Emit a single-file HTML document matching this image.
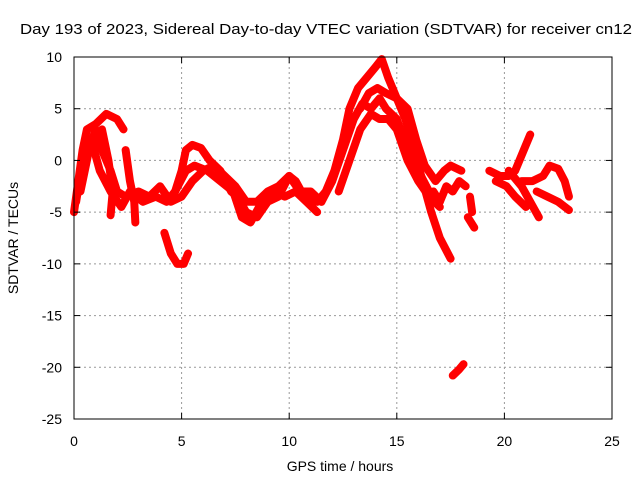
<!DOCTYPE html>
<html><head><meta charset="utf-8"><style>
html,body{margin:0;padding:0;background:#fff}
svg{display:block;font-family:"Liberation Sans",sans-serif}
</style></head><body>
<svg id="chart" width="640" height="480" viewBox="0 0 640 480">
<text x="326" y="34" font-size="15" text-anchor="middle" textLength="612" lengthAdjust="spacingAndGlyphs">Day 193 of 2023, Sidereal Day-to-day VTEC variation (SDTVAR) for receiver cn12</text>
<g id="grid"></g>
<g id="marks"></g>
<rect x="74" y="57" width="538" height="362" fill="none" stroke="#000" stroke-width="1"/>
<g id="ticks"></g>
<text x="340" y="471" font-size="14" text-anchor="middle">GPS time / hours</text>
<text transform="translate(18,238) rotate(-90)" font-size="14" text-anchor="middle">SDTVAR / TECUs</text>
</svg>
<script>
const xTicks=[0,5,10,15,20,25];
const yTicks=[10,5,0,-5,-10,-15,-20,-25];
const track1=[[0,-5],[0.2,-2],[0.4,1],[0.6,3],[1.0,3.5],[1.5,4.5],[2.0,4],[2.3,3]];
const track2=[[0.1,-4],[0.4,0],[0.8,2],[1.2,-1],[1.7,-3],[2.2,-4.5],[2.6,-3],[3.2,-4],[3.8,-3.5],[4.3,-4],[4.7,-3],[5.2,-1],[5.6,-0.5],[6.2,-1],[6.8,-2],[7.4,-3],[7.8,-5.5],[8.2,-6],[8.6,-4.5],[9.2,-3],[9.8,-3.5],[10.3,-3],[10.8,-4],[11.3,-5]];
const track3=[[0.3,-3],[0.7,1],[1.0,3],[1.3,1],[1.7,-1],[2.0,-3],[2.4,-3.5],[3.0,-3],[3.5,-3.5],[4.0,-2.5],[4.5,-4],[5.0,-3.5],[5.5,-2],[6.0,-1],[6.5,-0.5],[7.0,-1.5],[7.5,-2.5],[8.0,-4],[8.5,-4],[9.0,-3],[9.5,-2.5],[10.0,-1.5],[10.5,-3],[11.0,-3],[11.5,-4]];
const track4=[[1.3,3],[1.6,0],[1.8,-3],[1.7,-5.3]];
const track5=[[2.4,1],[2.6,-2],[2.8,-4],[2.85,-6]];
const track6=[[4.2,-7],[4.5,-9],[4.8,-10],[5.1,-10],[5.3,-9]];
const track7=[[4.7,-3],[5.0,-1],[5.2,1],[5.5,1.5],[5.9,1.2],[6.3,0],[6.8,-1],[7.3,-3],[7.6,-3.5],[8.0,-5],[8.5,-5.5],[9.0,-4],[9.5,-3.5],[10.0,-1.5],[10.3,-2],[10.7,-3.5],[11.3,-4],[11.7,-3],[12.1,-1],[12.5,2],[12.8,5],[13.2,7],[13.6,8],[14.0,9],[14.3,9.8],[14.6,8],[15.0,6],[15.4,4],[15.8,1],[16.2,-2],[16.6,-5],[17.0,-7.5],[17.5,-9.5]];
const track8=[[11.5,-4],[12.0,-2],[12.5,1],[13.0,4],[13.4,5.5],[13.8,5],[14.2,6],[14.5,5],[15.0,4],[15.5,1],[16.0,-1],[16.5,-3],[17.0,-4]];
const track9=[[12.3,-3],[12.8,0],[13.3,3],[13.8,4.5],[14.2,4],[14.6,4],[15.0,3],[15.5,0],[16.0,-2],[16.5,-3.5],[17.0,-4.5]];
const track10=[[13.3,5],[13.7,6.5],[14.1,7],[14.5,6.5],[15.0,6],[15.5,5],[15.9,2],[16.3,-0.5],[16.8,-2],[17.2,-1],[17.5,-0.5],[18.0,-1]];
const track11=[[16.7,-3],[17.0,-4],[17.3,-2.5],[17.6,-3],[17.9,-2],[18.2,-2.5]];
const track12=[[18.4,-3.5],[18.5,-5]];
const track13=[[18.3,-5.5],[18.6,-6.5]];
const track14=[[19.3,-1],[19.8,-1.5],[20.2,-1.5],[20.5,-1],[20.9,1],[21.2,2.5]];
const track15=[[19.6,-2],[20.1,-2.5],[20.5,-3.5],[21.0,-4.5]];
const track16=[[20.2,-1],[20.8,-2.5],[21.2,-4],[21.6,-5.5]];
const track17=[[20.8,-2],[21.3,-2],[21.8,-1.5],[22.1,-0.5],[22.5,-0.8],[22.8,-2],[23.0,-3.5]];
const track18=[[21.5,-3],[22.0,-3.5],[22.5,-4],[23.0,-4.8]];
const track19=[[17.6,-20.8],[17.9,-20.2],[18.1,-19.7]];
const tracks=[track1,track2,track3,track4,track5,track6,track7,track8,track9,track10,track11,track12,track13,track14,track15,track16,track17,track18,track19];

const X0=74,X1=612,Y0=57,Y1=419,xmin=0,xmax=25,ymin=-25,ymax=10;
function xs(t){return X0+(t-xmin)/(xmax-xmin)*(X1-X0);}
function ys(v){return Y1-(v-ymin)/(ymax-ymin)*(Y1-Y0);}
const NS="http://www.w3.org/2000/svg";
const grid=document.getElementById('grid'),ticks=document.getElementById('ticks'),marks=document.getElementById('marks');
function mk(tag,attrs,parent){const e=document.createElementNS(NS,tag);for(const k in attrs)e.setAttribute(k,attrs[k]);parent.appendChild(e);return e;}
xTicks.forEach(t=>{
  const x=xs(t);
  if(t>xmin&&t<xmax){const g=mk('line',{x1:x,x2:x,y1:Y0,y2:Y1,stroke:'#999','stroke-dasharray':'2,3'},grid);
  
  }
  const a=mk('line',{x1:x,x2:x,y1:Y1,y2:Y1-6,stroke:'#000'},ticks);
  
  
  const b=mk('line',{x1:x,x2:x,y1:Y0,y2:Y0+6,stroke:'#000'},ticks);
  
  
  const l=mk('text',{x:x,y:446,'font-size':14,'text-anchor':'middle'},ticks);l.textContent=t;
  
  
});
yTicks.forEach(v=>{
  const y=ys(v);
  if(v>ymin&&v<ymax){const g=mk('line',{x1:X0,x2:X1,y1:y,y2:y,stroke:'#999','stroke-dasharray':'2,3'},grid);
  
  }
  const a=mk('line',{x1:X0,x2:X0+6,y1:y,y2:y,stroke:'#000'},ticks);
  
  
  const b=mk('line',{x1:X1,x2:X1-6,y1:y,y2:y,stroke:'#000'},ticks);
  
  
  const l=mk('text',{x:62,y:y+5,'font-size':14,'text-anchor':'end'},ticks);l.textContent=v;
  
  
});
tracks.forEach(tr=>{
  const p=mk('polyline',{points:tr.map(d=>xs(d[0])+','+ys(d[1])).join(' '),fill:'none',stroke:'#f00','stroke-width':8,'stroke-linejoin':'round','stroke-linecap':'round'},marks);
  
  
});
</script>
</body></html>
